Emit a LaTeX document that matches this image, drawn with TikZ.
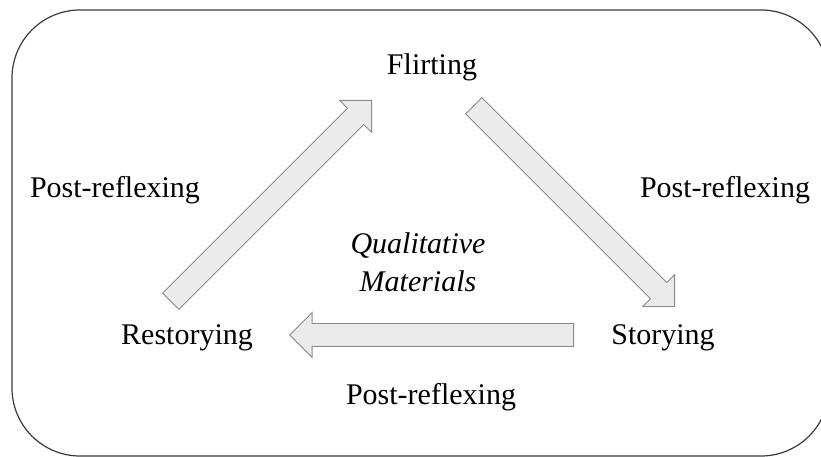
\documentclass[tikz,border=0pt]{standalone}
\usepackage{fontspec}
\setmainfont{Liberation Serif}
\usetikzlibrary{shapes.arrows, calc}
\definecolor{arrowfill}{HTML}{EBEBEB}
\definecolor{arrowline}{HTML}{8A8A8A}
\definecolor{frameline}{HTML}{3A3A3A}
\tikzset{
stage/.style={
       font=\fontsize{30}{38}\selectfont,
       inner sep=0pt,
       anchor=base,
       },
flow/.style={
       single arrow,
       single arrow head extend=11pt,
       single arrow tip angle=90,
       minimum width=44pt,
       minimum height=284pt,
       inner xsep=0pt,
       inner ysep=11pt,
       fill=arrowfill,
       draw=arrowline,
       line width=0.9pt,
       anchor=tip,
       }
}

\begin{document}
\begin{tikzpicture}[x=1pt, y=1pt]
      \useasboundingbox (0,0) rectangle (821,457);
      \clip (0,0) rectangle (821,457);
      \draw[frameline, line width=1.2pt, rounded corners=68pt] (12,1) rectangle (829,447);

      \node [stage] (flirting) at (432,382) {Flirting};
      \node [stage] (restorying) at (187,112) {Restorying};
      \node [stage] (storying) at (663,112) {Storying};
      \node [stage, anchor=center, align=center, font=\fontsize{30}{38}\selectfont\itshape] (materials) at (418,195) {Qualitative\\Materials};

      \node [stage] (left label) at (115,259) {Post-reflexing};
      \node [stage] (right label) at (725,259) {Post-reflexing};
      \node [stage] (bottom label) at (431,52) {Post-reflexing};

      % arrow tips
      \coordinate (up tip) at (372,357);
      \coordinate (down tip) at (675,150);
      \coordinate (back tip) at (289,122);

      % Draw block arrows
      \foreach \n/\r in {up/45, down/-45, back/180} {
          \node [flow, rotate=\r] (\n\space arrow) at (\n\space tip) {};
      }
\end{tikzpicture}
\end{document}
